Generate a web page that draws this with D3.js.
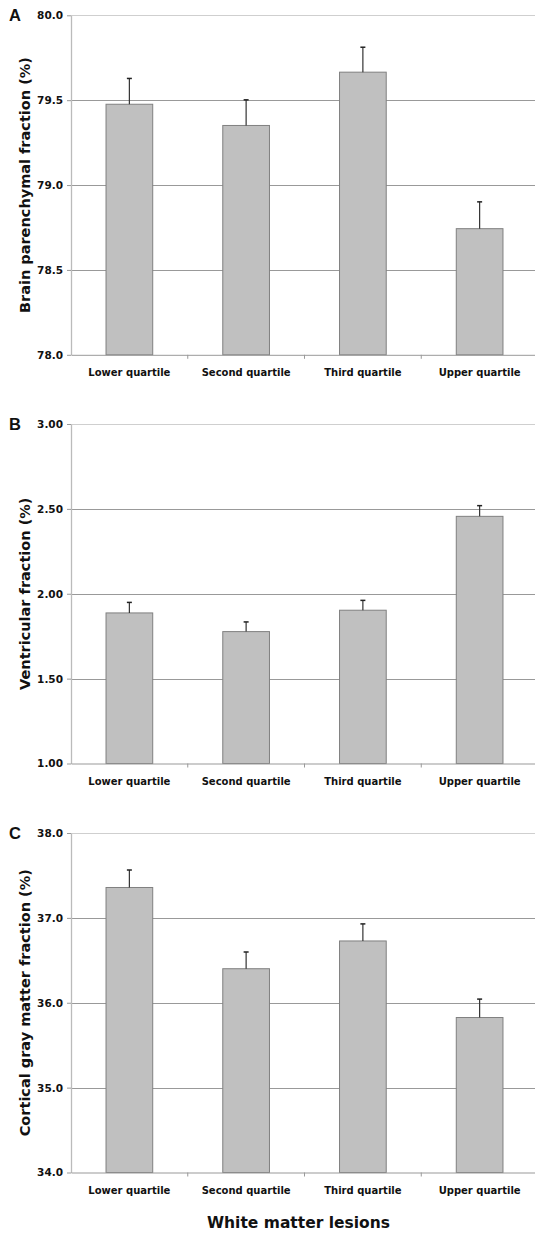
<!DOCTYPE html>
<html>
<head>
<meta charset="utf-8">
<script src="https://cdn.jsdelivr.net/npm/d3@7"></script>
<style>
  body { margin: 0; background: #fff; }
  svg { display: block; font-family: "DejaVu Sans", Verdana, sans-serif; }
</style>
</head>
<body>
<svg id="chart" width="535" height="1233"></svg>
<script>
// quartiles of white matter lesion load
const categories = ["Lower quartile", "Second quartile", "Third quartile", "Upper quartile"];

// A: brain parenchymal fraction (%)
const bpfMeans = [79.476, 79.351, 79.665, 78.743];
const bpfErrors = [0.152, 0.151, 0.147, 0.158];
const bpfTicks = [78.0, 78.5, 79.0, 79.5, 80.0];

// B: ventricular fraction (%)
const vfMeans = [1.887, 1.777, 1.903, 2.456];
const vfErrors = [0.062, 0.057, 0.058, 0.063];
const vfTicks = [1.0, 1.5, 2.0, 2.5, 3.0];

// C: cortical gray matter fraction (%)
const cgmMeans = [37.358, 36.401, 36.728, 35.826];
const cgmErrors = [0.206, 0.197, 0.201, 0.217];
const cgmTicks = [34.0, 35.0, 36.0, 37.0, 38.0];

const panels = [
  { letter: "A", title: "Brain parenchymal fraction (%)", means: bpfMeans, errors: bpfErrors, ticks: bpfTicks, fmt: ".1f", top: 15.3 },
  { letter: "B", title: "Ventricular fraction (%)", means: vfMeans, errors: vfErrors, ticks: vfTicks, fmt: ".2f", top: 424 },
  { letter: "C", title: "Cortical gray matter fraction (%)", means: cgmMeans, errors: cgmErrors, ticks: cgmTicks, fmt: ".1f", top: 833 }
];

const svg = d3.select("#chart");
const plotH = 339.5;
const left = 71, right = 538;

const x = d3.scaleBand()
  .domain(categories)
  .range([left, right])
  .paddingInner(0.6)
  .paddingOuter(0.3);

panels.forEach(p => {
  const bottom = p.top + plotH;
  const y = d3.scaleLinear()
    .domain(d3.extent(p.ticks))
    .range([bottom, p.top]);

  const g = svg.append("g");

  // gridlines (top one is the lighter frame line)
  g.selectAll("line.grid")
    .data(p.ticks.slice(1))
    .join("line")
    .attr("class", "grid")
    .attr("x1", left).attr("x2", 535)
    .attr("y1", d => Math.round(y(d)) + 0.5)
    .attr("y2", d => Math.round(y(d)) + 0.5)
    .attr("stroke", (d, i, n) => i === n.length - 1 ? "#cfcfcf" : "#999")
    .attr("stroke-width", 1);

  // y axis
  const yAxis = d3.axisLeft(y)
    .tickValues(p.ticks)
    .tickFormat(d3.format(p.fmt))
    .tickSize(4)
    .tickSizeOuter(0);
  const ya = g.append("g")
    .attr("transform", `translate(${left},0)`)
    .call(yAxis);
  ya.select(".domain").attr("stroke", "#bbb").attr("stroke-width", 1.3);
  ya.selectAll(".tick line").attr("stroke", "#999");
  ya.selectAll(".tick text")
    .attr("x", -8)
    .attr("fill", "#111")
    .style("font-size", "10.5px")
    .style("font-weight", "bold")
    .style("font-family", "'DejaVu Sans', Verdana, sans-serif");

  // bars
  g.selectAll("rect.bar")
    .data(p.means)
    .join("rect")
    .attr("class", "bar")
    .attr("x", (d, i) => x(categories[i]))
    .attr("width", x.bandwidth())
    .attr("y", d => y(d))
    .attr("height", d => bottom - y(d))
    .attr("fill", "#c0c0c0")
    .attr("stroke", "#808080")
    .attr("stroke-width", 1);

  // error bars (upper half only)
  const eb = g.selectAll("g.err")
    .data(p.means.map((m, i) => ({ m, e: p.errors[i], c: categories[i] })))
    .join("g")
    .attr("class", "err");
  eb.append("line")
    .attr("x1", d => x(d.c) + x.bandwidth() / 2)
    .attr("x2", d => x(d.c) + x.bandwidth() / 2)
    .attr("y1", d => y(d.m))
    .attr("y2", d => y(d.m + d.e))
    .attr("stroke", "#333")
    .attr("stroke-width", 1.2);
  eb.append("line")
    .attr("x1", d => x(d.c) + x.bandwidth() / 2 - 2.5)
    .attr("x2", d => x(d.c) + x.bandwidth() / 2 + 2.5)
    .attr("y1", d => y(d.m + d.e))
    .attr("y2", d => y(d.m + d.e))
    .attr("stroke", "#222")
    .attr("stroke-width", 1.5);

  // x axis line and category separators
  const xAxis = d3.axisBottom(x).tickSize(0).tickSizeOuter(0);
  const xa = g.append("g")
    .attr("transform", `translate(0,${bottom})`)
    .call(xAxis);
  xa.select(".domain").attr("stroke", "#999").attr("stroke-width", 1);
  xa.selectAll(".tick text")
    .attr("y", 14)
    .attr("fill", "#111")
    .style("font-size", "10px")
    .style("font-weight", "bold")
    .style("font-family", "'DejaVu Sans', Verdana, sans-serif");
  const gap = (x.step() - x.bandwidth()) / 2;
  xa.selectAll("line.sep")
    .data(categories.slice(1))
    .join("line")
    .attr("class", "sep")
    .attr("x1", d => x(d) - gap)
    .attr("x2", d => x(d) - gap)
    .attr("y1", 0).attr("y2", 4)
    .attr("stroke", "#999");

  // y axis title
  g.append("text")
    .attr("transform", `translate(30,${(p.top + bottom) / 2}) rotate(-90)`)
    .attr("text-anchor", "middle")
    .style("font-size", "14.5px")
    .style("font-weight", "bold")
    .attr("fill", "#111")
    .text(p.title);

  // panel letter
  g.append("text")
    .attr("x", 9)
    .attr("y", p.top + 5.6)
    .style("font-family", "'Liberation Sans', Arial, sans-serif")
    .style("font-size", "16.5px")
    .style("font-weight", "bold")
    .attr("fill", "#111")
    .text(p.letter);
});

// shared x axis title
svg.append("text")
  .attr("x", (left + right) / 2 - 6)
  .attr("y", 1228)
  .attr("text-anchor", "middle")
  .style("font-size", "15.5px")
  .style("font-weight", "bold")
  .attr("fill", "#111")
  .text("White matter lesions");
</script>
</body>
</html>
